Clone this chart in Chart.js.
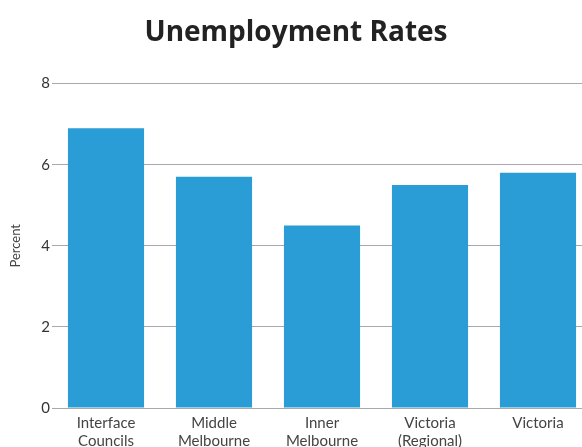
<!DOCTYPE html>
<html>
<head>
<meta charset="utf-8">
<script src="https://cdn.jsdelivr.net/npm/chart.js@4/dist/chart.umd.min.js"></script>
<style>
  html, body { margin: 0; padding: 0; background: #fff; overflow: hidden; }
  #wrap { width: 600px; height: 462px; }
</style>
</head>
<body>
<div id="wrap"><canvas id="rateChart" width="600" height="462"></canvas></div>
<script>
// Unemployment rate by region (percent)
const regions = [
    ['Interface', 'Councils'],
    ['Middle', 'Melbourne'],
    ['Inner', 'Melbourne'],
    ['Victoria', '(Regional)'],
    ['Victoria']
];
const rates = [6.9, 5.7, 4.5, 5.5, 5.8];
const yTicks = [0, 2, 4, 6, 8];

const barColor = '#2a9dd6';
const gridColor = '#a8a8ad';

new Chart(document.getElementById('rateChart').getContext('2d'), {
    type: 'bar',
    data: {
        labels: regions,
        datasets: [{
            label: 'Unemployment rate',
            data: rates,
            backgroundColor: barColor,
            borderWidth: 0,
            categoryPercentage: 1,
            barPercentage: 0.705
        }]
    },
    options: {
        responsive: false,
        animation: false,
        layout: { padding: { right: 8, left: 0, top: 0, bottom: 0 } },
        plugins: {
            legend: { display: false },
            tooltip: { enabled: false },
            title: {
                display: true,
                text: 'Unemployment Rates',
                color: '#222',
                font: { family: 'Open Sans', size: 28, weight: 'bold' },
                padding: { top: 16, bottom: 34 }
            }
        },
        scales: {
            x: {
                grid: { display: false, drawTicks: false },
                border: { color: gridColor, width: 1 },
                ticks: {
                    color: '#444',
                    font: { family: 'Lato', size: 15 },
                    padding: 6,
                    lineHeight: 1.2,
                    maxRotation: 0,
                    autoSkip: false
                },
                afterFit: (scale) => { scale.height = 54; }
            },
            y: {
                min: 0,
                max: 8,
                afterBuildTicks: (scale) => { scale.ticks = yTicks.map(v => ({ value: v })); },
                grid: { color: gridColor, drawTicks: false },
                border: { display: false },
                ticks: {
                    color: '#333',
                    font: { family: 'Lato', size: 15 },
                    padding: 2
                },
                title: {
                    display: true,
                    text: 'Percent',
                    color: '#444',
                    font: { family: 'Lato', size: 13 },
                    padding: { top: 8, bottom: 4 }
                },
                afterFit: (scale) => { scale.width = 52; }
            }
        }
    }
});
</script>
</body>
</html>
